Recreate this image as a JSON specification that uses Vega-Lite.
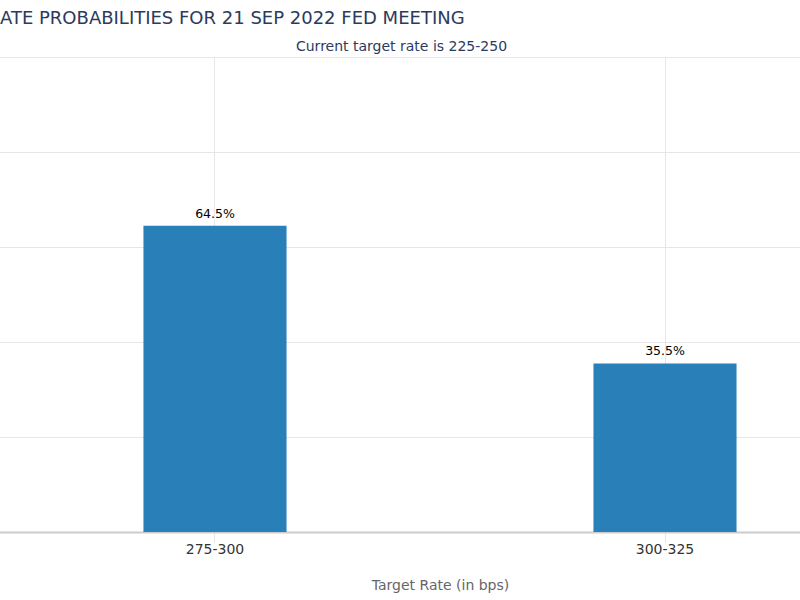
{
  "$schema": "https://vega.github.io/schema/vega-lite/v6.json",
  "autosize": {"type": "none"},
  "width": 900,
  "height": 475,
  "padding": {"left": -10, "top": 57, "right": 0, "bottom": 68},
  "background": "white",
  "title": {
    "text": "ATE PROBABILITIES FOR 21 SEP 2022 FED MEETING",
    "anchor": "start",
    "dx": 10,
    "font": "DejaVu Sans",
    "fontSize": 18,
    "fontWeight": "normal",
    "color": "#2c3a5e",
    "offset": 11
  },
  "data": {
    "values": [
      {"rate": "275-300", "prob": 64.5, "label": "64.5%"},
      {"rate": "300-325", "prob": 35.5, "label": "35.5%"}
    ]
  },
  "encoding": {
    "x": {
      "field": "rate",
      "type": "nominal",
      "scale": {"paddingInner": 0.682, "paddingOuter": 0.341},
      "axis": {
        "title": "Target Rate (in bps)",
        "labelAngle": 0,
        "labelFont": "DejaVu Sans",
        "labelFontSize": 14,
        "labelColor": "#333333",
        "labelPadding": 0,
        "titleFont": "DejaVu Sans",
        "titleFontSize": 14,
        "titleFontWeight": "normal",
        "titleColor": "#666666",
        "titlePadding": 22,
        "domainColor": "#cccccc",
        "domainWidth": 2,
        "tickColor": "#e6e6e6",
        "tickSize": 10,
        "grid": true,
        "gridColor": "#e6e6e6"
      }
    },
    "y": {
      "field": "prob",
      "type": "quantitative",
      "scale": {"domain": [0, 100]},
      "axis": {
        "title": null,
        "labels": false,
        "ticks": false,
        "domain": false,
        "values": [0, 20, 40, 60, 80, 100],
        "gridColor": "#e6e6e6"
      }
    }
  },
  "layer": [
    {
      "mark": {"type": "bar", "color": "#2980b9"}
    },
    {
      "mark": {"type": "text", "baseline": "bottom", "dy": -5, "font": "DejaVu Sans", "fontSize": 12.5, "color": "#000000"},
      "encoding": {
        "text": {"field": "label"},
        "x": {
          "field": "rate",
          "type": "nominal",
          "axis": {
            "orient": "top",
            "title": "Current target rate is 225-250",
            "titleX": 411,
            "titleFont": "DejaVu Sans",
            "titleFontSize": 14,
            "titleFontWeight": "normal",
            "titleColor": "#2c3a5e",
            "titlePadding": 4,
            "labels": false,
            "ticks": false,
            "domain": false,
            "grid": false
          }
        }
      }
    }
  ],
  "resolve": {"axis": {"x": "independent"}},
  "config": {"view": {"stroke": null}}
}
